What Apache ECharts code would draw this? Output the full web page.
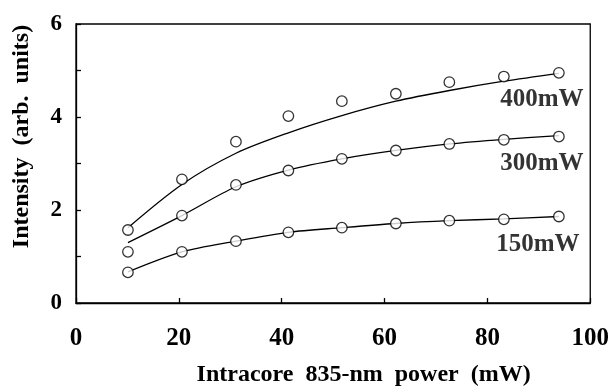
<!DOCTYPE html>
<html>
<head>
<meta charset="utf-8">
<script src="https://cdn.jsdelivr.net/npm/echarts@6/dist/echarts.min.js"></script>
<style>html,body{margin:0;padding:0;background:#fff;}#c{width:612px;height:392px;}</style>
</head>
<body>
<div id="c"></div>
<script>
const xVals = [10.1, 20.6, 31.1, 41.3, 51.7, 62.2, 72.6, 83.2, 93.9];
const p400 = [1.57, 2.66, 3.47, 4.02, 4.34, 4.50, 4.75, 4.87, 4.95];
const p300 = [1.10, 1.88, 2.54, 2.85, 3.10, 3.28, 3.42, 3.51, 3.58];
const p150 = [0.66, 1.10, 1.33, 1.52, 1.62, 1.71, 1.77, 1.80, 1.86];
const fit400 = [1.62, 2.55, 3.22, 3.66, 4.03, 4.34, 4.57, 4.77, 4.94];
const fit300 = [1.30, 1.88, 2.50, 2.86, 3.10, 3.28, 3.42, 3.52, 3.60];
const fit150 = [0.67, 1.10, 1.33, 1.52, 1.62, 1.71, 1.77, 1.81, 1.86];
const seriesNames = ['400mW', '300mW', '150mW'];
const xTitle = 'Intracore  835-nm  power  (mW)';
const yTitle = 'Intensity  (arb.  units)';

const FONT = 'Liberation Serif';
const pts = [p400, p300, p150];
const fits = [fit400, fit300, fit150];
const labelOffsets = [[-17, 27], [-17, 27], [-21, 28]];

function pair(ys) { return xVals.map((x, i) => [x, ys[i]]); }

const series = [];
fits.forEach((f) => {
  series.push({
    type: 'line', data: pair(f), smooth: 0.3, symbol: 'none', z: 2,
    lineStyle: { color: '#000', width: 1.3 }, silent: true
  });
});
pts.forEach((p, k) => {
  const d = pair(p).map((v, i) => {
    if (i === xVals.length - 1) {
      return {
        value: v,
        label: {
          show: true, formatter: seriesNames[k], position: 'inside',
          offset: labelOffsets[k], color: '#000', fontFamily: FONT, fontWeight: 'bold', fontSize: 25
        }
      };
    }
    return v;
  });
  series.push({
    type: 'scatter', data: d, symbol: 'circle', symbolSize: 10.5, z: 3,
    itemStyle: { color: '#fff', borderColor: '#000', borderWidth: 1.3 }
  });
});

const chart = echarts.init(document.getElementById('c'), null, { renderer: 'canvas' });
chart.setOption({
  animation: false,
  backgroundColor: '#fff',
  grid: { left: 76, right: 17, top: 24, bottom: 89, show: true, borderColor: '#000', borderWidth: 1.3, backgroundColor: 'transparent' },
  xAxis: {
    type: 'value', min: 0, max: 100, interval: 20,
    name: xTitle, nameLocation: 'middle', nameGap: 60,
    nameTextStyle: { color: '#000', fontFamily: FONT, fontWeight: 'bold', fontSize: 24, padding: [0, 0, 0, 61] },
    axisLine: { show: true, lineStyle: { color: '#000', width: 1.3 } },
    axisTick: { show: true, inside: true, length: 5, lineStyle: { color: '#000', width: 1.3 } },
    axisLabel: { color: '#000', fontFamily: FONT, fontWeight: 'bold', fontSize: 25, margin: 23 },
    splitLine: { show: false }
  },
  yAxis: {
    type: 'value', min: 0, max: 6, interval: 1,
    name: yTitle, nameLocation: 'middle', nameGap: 42, nameRotate: 90,
    nameTextStyle: { color: '#000', fontFamily: FONT, fontWeight: 'bold', fontSize: 24, padding: [0, 0, 0, 54] },
    axisLine: { show: true, lineStyle: { color: '#000', width: 1.3 } },
    axisTick: { show: true, inside: true, length: 5, lineStyle: { color: '#000', width: 1.3 } },
    axisLabel: { color: '#000', fontFamily: FONT, fontWeight: 'bold', fontSize: 23, margin: 14,
      formatter: (v) => (v % 2 === 0 ? String(v) : '') },
    splitLine: { show: false }
  },
  series: series
});
</script>
</body>
</html>
